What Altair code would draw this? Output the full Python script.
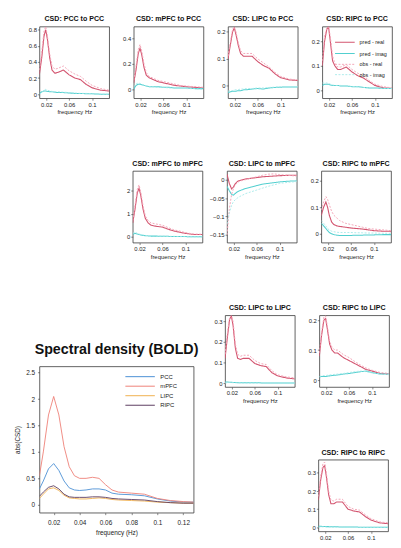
import altair as alt
import pandas as pd

# ---------------- data ----------------
freq = [0.008, 0.012, 0.016, 0.019, 0.022, 0.026, 0.03, 0.035, 0.04, 0.05,
        0.06, 0.07, 0.08, 0.09, 0.1, 0.115, 0.13]
series_names = ["pred - real", "pred - imag", "obs - real", "obs - imag"]

pcc_pcc_pred_real = [0.25, 0.45, 0.72, 0.80, 0.68, 0.45, 0.30, 0.26, 0.27, 0.30, 0.24, 0.20, 0.18, 0.12, 0.08, 0.05, 0.04]
pcc_pcc_obs_real = [0.30, 0.52, 0.78, 0.84, 0.72, 0.50, 0.35, 0.31, 0.32, 0.35, 0.29, 0.25, 0.22, 0.16, 0.11, 0.07, 0.05]
pcc_pcc_pred_imag = [0.01, 0.03, 0.04, 0.04, 0.035, 0.03, 0.03, 0.025, 0.02, 0.02, 0.015, 0.01, 0.01, 0.005, 0.005, 0.0, 0.0]
pcc_pcc_obs_imag = [0.0, 0.02, 0.05, 0.06, 0.05, 0.04, 0.035, 0.03, 0.03, 0.025, 0.02, 0.015, 0.01, 0.01, 0.005, 0.0, 0.0]

mpfc_pcc_pred_real = [0.05, 0.15, 0.28, 0.32, 0.27, 0.17, 0.11, 0.09, 0.08, 0.06, 0.05, 0.04, 0.03, 0.025, 0.02, 0.015, 0.01]
mpfc_pcc_obs_real = [0.07, 0.18, 0.31, 0.35, 0.30, 0.20, 0.13, 0.10, 0.09, 0.07, 0.06, 0.05, 0.04, 0.03, 0.025, 0.02, 0.015]
mpfc_pcc_pred_imag = [0.0, 0.03, 0.04, 0.04, 0.035, 0.03, 0.025, 0.02, 0.02, 0.02, 0.015, 0.015, 0.01, 0.01, 0.01, 0.005, 0.005]
mpfc_pcc_obs_imag = [0.02, 0.04, 0.05, 0.045, 0.04, 0.03, 0.025, 0.02, 0.02, 0.015, 0.015, 0.01, 0.01, 0.01, 0.005, 0.005, 0.0]

lipc_pcc_pred_real = [0.10, 0.15, 0.20, 0.215, 0.19, 0.15, 0.12, 0.11, 0.11, 0.11, 0.09, 0.075, 0.065, 0.045, 0.03, 0.022, 0.02]
lipc_pcc_obs_real = [0.11, 0.16, 0.21, 0.218, 0.20, 0.16, 0.13, 0.12, 0.12, 0.12, 0.10, 0.085, 0.07, 0.05, 0.035, 0.025, 0.022]
lipc_pcc_pred_imag = [-0.025, -0.022, -0.02, -0.02, -0.02, -0.018, -0.018, -0.015, -0.015, -0.012, -0.01, -0.012, -0.008, -0.006, -0.005, -0.004, -0.004]
lipc_pcc_obs_imag = [-0.02, -0.018, -0.018, -0.015, -0.015, -0.014, -0.012, -0.012, -0.01, -0.01, -0.008, -0.008, -0.006, -0.005, -0.004, -0.003, -0.003]

ripc_pcc_pred_real = [0.10, 0.20, 0.25, 0.258, 0.20, 0.12, 0.10, 0.085, 0.085, 0.095, 0.075, 0.06, 0.05, 0.035, 0.02, 0.01, 0.008]
ripc_pcc_obs_real = [0.12, 0.22, 0.255, 0.258, 0.22, 0.14, 0.11, 0.095, 0.095, 0.105, 0.085, 0.07, 0.06, 0.04, 0.025, 0.015, 0.01]
ripc_pcc_pred_imag = [0.02, 0.025, 0.025, 0.025, 0.022, 0.02, 0.02, 0.02, 0.018, 0.018, 0.015, 0.015, 0.012, 0.01, 0.01, 0.008, 0.008]
ripc_pcc_obs_imag = [0.03, 0.03, 0.03, 0.028, 0.025, 0.022, 0.02, 0.02, 0.02, 0.018, 0.016, 0.015, 0.012, 0.01, 0.01, 0.008, 0.008]

mpfc_mpfc_pred_real = [0.6, 1.2, 1.9, 2.1, 1.8, 1.2, 0.8, 0.6, 0.5, 0.45, 0.42, 0.33, 0.25, 0.2, 0.15, 0.1, 0.1]
mpfc_mpfc_obs_real = [0.7, 1.35, 2.05, 2.25, 1.95, 1.35, 0.9, 0.7, 0.6, 0.55, 0.5, 0.4, 0.3, 0.25, 0.18, 0.12, 0.11]
mpfc_mpfc_pred_imag = [0.1, 0.15, 0.12, 0.1, 0.08, 0.06, 0.05, 0.04, 0.03, 0.03, 0.02, 0.02, 0.01, 0.01, 0.01, 0.0, 0.0]
mpfc_mpfc_obs_imag = [0.15, 0.2, 0.15, 0.12, 0.1, 0.08, 0.06, 0.05, 0.04, 0.03, 0.03, 0.02, 0.02, 0.01, 0.01, 0.0, 0.0]

lipc_mpfc_pred_real = [0.015, -0.01, -0.025, -0.02, -0.012, -0.005, -0.002, 0.0, 0.002, 0.004, 0.006, 0.008, 0.009, 0.01, 0.011, 0.012, 0.012]
lipc_mpfc_obs_real = [-0.15, -0.08, -0.04, -0.025, -0.015, -0.008, -0.004, -0.002, 0.0, 0.004, 0.008, 0.012, 0.015, 0.016, 0.014, 0.012, 0.01]
lipc_mpfc_pred_imag = [-0.018, -0.03, -0.04, -0.042, -0.038, -0.033, -0.03, -0.027, -0.024, -0.02, -0.016, -0.012, -0.01, -0.008, -0.006, -0.004, -0.003]
lipc_mpfc_obs_imag = [-0.12, -0.09, -0.07, -0.06, -0.055, -0.05, -0.046, -0.042, -0.038, -0.033, -0.028, -0.023, -0.018, -0.014, -0.01, -0.007, -0.005]

ripc_mpfc_pred_real = [0.07, 0.1, 0.12, 0.1, 0.07, 0.045, 0.035, 0.03, 0.028, 0.025, 0.022, 0.02, 0.018, 0.015, 0.012, 0.01, 0.01]
ripc_mpfc_obs_real = [0.09, 0.12, 0.14, 0.13, 0.11, 0.085, 0.07, 0.06, 0.05, 0.04, 0.035, 0.03, 0.025, 0.02, 0.018, 0.015, 0.012]
ripc_mpfc_pred_imag = [0.04, 0.03, 0.02, 0.012, 0.005, 0.0, -0.003, -0.005, -0.006, -0.006, -0.006, -0.005, -0.005, -0.004, -0.004, -0.003, -0.003]
ripc_mpfc_obs_imag = [0.05, 0.04, 0.03, 0.02, 0.015, 0.01, 0.008, 0.006, 0.005, 0.005, 0.005, 0.004, 0.004, 0.003, 0.003, 0.002, 0.002]

lipc_lipc_pred_real = [0.12, 0.22, 0.31, 0.325, 0.28, 0.17, 0.12, 0.115, 0.12, 0.12, 0.095, 0.085, 0.08, 0.05, 0.035, 0.025, 0.02]
lipc_lipc_obs_real = [0.14, 0.24, 0.32, 0.328, 0.3, 0.19, 0.14, 0.13, 0.135, 0.135, 0.11, 0.095, 0.09, 0.06, 0.04, 0.03, 0.025]
lipc_lipc_pred_imag = [0.005, 0.005, 0.004, 0.004, 0.003, 0.003, 0.002, 0.002, 0.002, 0.001, 0.001, 0.001, 0.0, 0.0, 0.0, 0.0, 0.0]
lipc_lipc_obs_imag = [0.0, 0.002, 0.003, 0.002, 0.002, 0.001, 0.001, 0.001, 0.0, 0.0, 0.0, 0.0, 0.0, 0.0, 0.0, 0.0, 0.0]

ripc_lipc_pred_real = [0.08, 0.15, 0.20, 0.205, 0.17, 0.12, 0.10, 0.09, 0.09, 0.075, 0.065, 0.055, 0.045, 0.035, 0.03, 0.022, 0.02]
ripc_lipc_obs_real = [0.09, 0.16, 0.21, 0.214, 0.18, 0.13, 0.11, 0.1, 0.1, 0.085, 0.075, 0.062, 0.05, 0.04, 0.033, 0.025, 0.022]
ripc_lipc_pred_imag = [0.01, 0.012, 0.012, 0.012, 0.013, 0.014, 0.015, 0.016, 0.017, 0.02, 0.022, 0.025, 0.028, 0.03, 0.025, 0.02, 0.02]
ripc_lipc_obs_imag = [0.012, 0.014, 0.015, 0.015, 0.016, 0.017, 0.018, 0.019, 0.02, 0.022, 0.025, 0.028, 0.03, 0.028, 0.024, 0.02, 0.018]

ripc_ripc_pred_real = [0.15, 0.26, 0.33, 0.34, 0.28, 0.18, 0.13, 0.13, 0.14, 0.14, 0.10, 0.09, 0.085, 0.06, 0.04, 0.025, 0.02]
ripc_ripc_obs_real = [0.17, 0.28, 0.35, 0.36, 0.3, 0.2, 0.15, 0.145, 0.155, 0.155, 0.115, 0.1, 0.095, 0.07, 0.048, 0.03, 0.025]
ripc_ripc_pred_imag = [0.006, 0.006, 0.005, 0.005, 0.004, 0.004, 0.003, 0.003, 0.003, 0.002, 0.002, 0.002, 0.001, 0.001, 0.001, 0.0, 0.0]
ripc_ripc_obs_imag = [0.0, 0.002, 0.003, 0.003, 0.002, 0.002, 0.001, 0.001, 0.001, 0.0, 0.0, 0.0, 0.0, 0.0, 0.0, 0.0, 0.0]

# big panel: spectral density (BOLD)
freq_big = [0.009, 0.012, 0.016, 0.02, 0.024, 0.028, 0.032, 0.036, 0.04, 0.045, 0.05,
            0.055, 0.06, 0.065, 0.07, 0.08, 0.09, 0.1, 0.11, 0.12, 0.128]
regions = ["PCC", "mPFC", "LIPC", "RIPC"]
bold_pcc = [0.3, 0.45, 0.68, 0.78, 0.65, 0.45, 0.32, 0.28, 0.27, 0.28, 0.3, 0.3, 0.28, 0.22, 0.2, 0.19, 0.17, 0.11, 0.07, 0.05, 0.05]
bold_mpfc = [0.55, 1.0, 1.7, 2.05, 1.7, 1.1, 0.72, 0.55, 0.5, 0.5, 0.52, 0.5, 0.38, 0.28, 0.24, 0.22, 0.2, 0.12, 0.08, 0.06, 0.05]
bold_lipc = [0.12, 0.2, 0.3, 0.32, 0.27, 0.18, 0.13, 0.12, 0.11, 0.11, 0.12, 0.13, 0.12, 0.1, 0.09, 0.08, 0.07, 0.05, 0.04, 0.03, 0.03]
bold_ripc = [0.16, 0.24, 0.33, 0.36, 0.3, 0.2, 0.15, 0.14, 0.14, 0.14, 0.15, 0.15, 0.14, 0.12, 0.11, 0.1, 0.09, 0.06, 0.04, 0.03, 0.03]

# ---------------- styles ----------------
FONT = "Liberation Sans"
SER_COLORS = ["#d3546f", "#52cfcf", "#f3a3b6", "#a4e9ea"]
SER_DASH = [[1, 0], [1, 0], [2, 1.5], [2, 1.5]]
SER_WIDTH = [1.1, 0.9, 0.9, 0.9]
REG_COLORS = ["#4a8fd4", "#ee7f76", "#f0b04e", "#5b3b5f"]
PW, PH = 71, 73
HSP = 3
VSP = 44


def small_panel(title, arrays, ydom, yticks, ext=20, legend=False, xtitle="frequency Hz"):
    rows = []
    for name, vals in zip(series_names, arrays):
        for f, v in zip(freq, vals):
            rows.append({"f": f, "v": v, "s": name})
    df = pd.DataFrame(rows)
    if legend:
        leg = alt.Legend(orient="none", legendX=24, legendY=11, title=None,
                         labelFontSize=5.5, labelFont=FONT, labelColor="#222",
                         symbolType="M-4,0H1", symbolSize=64, symbolStrokeWidth=1,
                         rowPadding=2.5, labelOffset=4, padding=0)
    else:
        leg = None
    xaxis = alt.Axis(values=[0.02, 0.06, 0.1], format="~g", title=xtitle) if xtitle else \
        alt.Axis(values=[0.02, 0.06, 0.1], format="~g", title=None)
    return alt.Chart(df).mark_line(clip=True).encode(
        x=alt.X("f:Q", scale=alt.Scale(domain=[0.008, 0.13], nice=False, zero=False), axis=xaxis),
        y=alt.Y("v:Q", scale=alt.Scale(domain=ydom, nice=False, zero=False),
                axis=alt.Axis(values=yticks, format="~g", title=None, minExtent=ext)),
        color=alt.Color("s:N", scale=alt.Scale(domain=series_names, range=SER_COLORS), legend=leg),
        strokeDash=alt.StrokeDash("s:N", scale=alt.Scale(domain=series_names, range=SER_DASH), legend=leg),
        strokeWidth=alt.StrokeWidth("s:N", scale=alt.Scale(domain=series_names, range=SER_WIDTH), legend=None),
    ).properties(width=PW, height=PH, title=alt.Title(title, frame="group"))


def spacer(w, h):
    return alt.Chart(pd.DataFrame({"a": [0]})).mark_point(opacity=0).encode(
        x=alt.X("a:Q", axis=None), y=alt.Y("a:Q", axis=None)
    ).properties(width=w, height=h, view=alt.ViewBackground(strokeOpacity=0))


def indep(c):
    return c.resolve_scale(color="independent", strokeDash="independent",
                           strokeWidth="independent").resolve_legend(
        color="independent", strokeDash="independent", strokeWidth="independent")


p_pcc_pcc = small_panel("CSD: PCC to PCC",
                        [pcc_pcc_pred_real, pcc_pcc_pred_imag, pcc_pcc_obs_real, pcc_pcc_obs_imag],
                        [-0.05, 0.84], [0, 0.2, 0.4, 0.6, 0.8], ext=26)
p_mpfc_pcc = small_panel("CSD: mPFC to PCC",
                         [mpfc_pcc_pred_real, mpfc_pcc_pred_imag, mpfc_pcc_obs_real, mpfc_pcc_obs_imag],
                         [-0.07, 0.49], [0, 0.2, 0.4])
p_lipc_pcc = small_panel("CSD: LIPC to PCC",
                         [lipc_pcc_pred_real, lipc_pcc_pred_imag, lipc_pcc_obs_real, lipc_pcc_obs_imag],
                         [-0.046, 0.22], [0, 0.1, 0.2])
p_ripc_pcc = small_panel("CSD: RIPC to PCC",
                         [ripc_pcc_pred_real, ripc_pcc_pred_imag, ripc_pcc_obs_real, ripc_pcc_obs_imag],
                         [-0.032, 0.26], [0, 0.1, 0.2], legend=True)
p_mpfc_mpfc = small_panel("CSD: mPFC to mPFC",
                          [mpfc_mpfc_pred_real, mpfc_mpfc_pred_imag, mpfc_mpfc_obs_real, mpfc_mpfc_obs_imag],
                          [-0.25, 2.85], [0, 1, 2])
p_lipc_mpfc = small_panel("CSD: LIPC to mPFC",
                          [lipc_mpfc_pred_real, lipc_mpfc_pred_imag, lipc_mpfc_obs_real, lipc_mpfc_obs_imag],
                          [-0.171, 0.024], [0, -0.05, -0.1, -0.15])
p_ripc_mpfc = small_panel("CSD: RIPC to mPFC",
                          [ripc_mpfc_pred_real, ripc_mpfc_pred_imag, ripc_mpfc_obs_real, ripc_mpfc_obs_imag],
                          [-0.033, 0.237], [0, 0.1, 0.2])
p_lipc_lipc = small_panel("CSD: LIPC to LIPC",
                          [lipc_lipc_pred_real, lipc_lipc_pred_imag, lipc_lipc_obs_real, lipc_lipc_obs_imag],
                          [-0.019, 0.329], [0, 0.1, 0.2, 0.3])
p_ripc_lipc = small_panel("CSD: RIPC to LIPC",
                          [ripc_lipc_pred_real, ripc_lipc_pred_imag, ripc_lipc_obs_real, ripc_lipc_obs_imag],
                          [-0.023, 0.216], [0, 0.1, 0.2])
p_ripc_ripc = small_panel("CSD: RIPC to RIPC",
                          [ripc_ripc_pred_real, ripc_ripc_pred_imag, ripc_ripc_obs_real, ripc_ripc_obs_imag],
                          [-0.022, 0.373], [0, 0.1, 0.2, 0.3], xtitle=None)

# big panel
brows = []
for name, vals in zip(regions, [bold_pcc, bold_mpfc, bold_lipc, bold_ripc]):
    for f, v in zip(freq_big, vals):
        brows.append({"f": f, "v": v, "r": name})
dfb = pd.DataFrame(brows)

big = alt.Chart(dfb).mark_line(clip=True, strokeWidth=0.9).encode(
    x=alt.X("f:Q", scale=alt.Scale(domain=[0.009, 0.128], nice=False, zero=False),
            axis=alt.Axis(values=[0.02, 0.04, 0.06, 0.08, 0.1, 0.12], format="~g",
                          title="frequency (Hz)", labelFontSize=6.5, titleFontSize=6.5,
                          labelPadding=5, titlePadding=4)),
    y=alt.Y("v:Q", scale=alt.Scale(domain=[-0.15, 2.62], nice=False, zero=False),
            axis=alt.Axis(values=[0, 0.5, 1, 1.5, 2, 2.5], format="~g", title="abs(CSD)",
                          labelFontSize=6.5, titleFontSize=6.5, labelPadding=3, titlePadding=5)),
    color=alt.Color("r:N", scale=alt.Scale(domain=regions, range=REG_COLORS),
                    legend=alt.Legend(orient="none", legendX=107, legendY=5, title=None,
                                      labelFontSize=6, labelFont=FONT, labelColor="#222",
                                      symbolType="M-5,0H1", symbolSize=100, symbolStrokeWidth=1,
                                      rowPadding=0.7, labelOffset=5, padding=0)),
).properties(width=157, height=149,
             title=alt.Title("Spectral density (BOLD)", fontSize=14.5, fontWeight="bold",
                             offset=9, frame="group", color="#111"))

row1 = indep(alt.hconcat(p_pcc_pcc, p_mpfc_pcc, p_lipc_pcc, p_ripc_pcc, spacing=HSP))
row2 = indep(alt.hconcat(spacer(PW, PH), p_mpfc_mpfc, p_lipc_mpfc, p_ripc_mpfc, spacing=HSP))
row3 = indep(alt.hconcat(p_lipc_lipc, p_ripc_lipc, spacing=HSP))
row4 = indep(alt.hconcat(spacer(PW, PH), p_ripc_ripc, spacing=HSP))
rightcol = indep(alt.vconcat(row3, row4, spacing=VSP))
bigcol = indep(alt.vconcat(spacer(150, 27), big, spacing=0))
bottom = indep(alt.hconcat(bigcol, rightcol, spacing=5))

chart = indep(alt.vconcat(row1, row2, bottom, spacing=VSP)).properties(
    padding={"left": 5, "top": 2, "right": 0, "bottom": -3}, background="white"
).configure_view(
    stroke="#3a3a3a", strokeWidth=0.8
).configure_axis(
    grid=False, domain=False, tickSize=2, tickColor="#3a3a3a", tickWidth=0.6,
    labelFontSize=6, labelColor="#222", labelFont=FONT, labelPadding=1,
    titleFontSize=6, titleFont=FONT, titleFontWeight="normal", titleColor="#222",
    titlePadding=2
).configure_title(
    font=FONT, fontSize=7.2, fontWeight="bold", color="#111", offset=4
)

chart.save("out.html", embed_options={"renderer": "svg", "actions": False})
